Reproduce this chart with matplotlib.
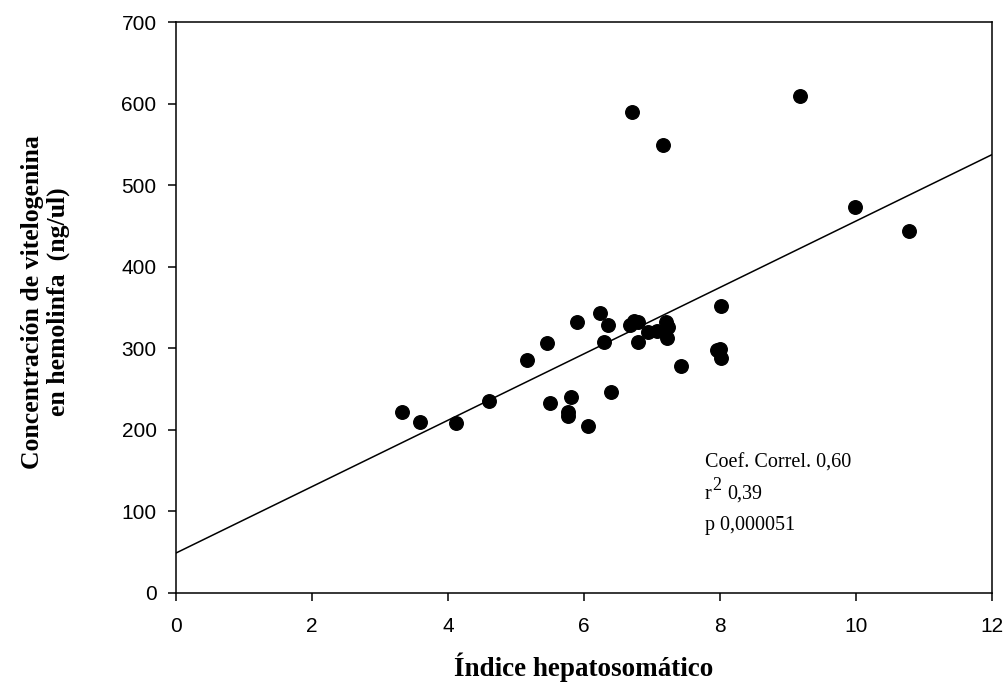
import numpy as np
import matplotlib
matplotlib.use("Agg")
import matplotlib.pyplot as plt

# indice hepatosomatico vs vitelogenina (ng/ul)
ihs = [3.32, 3.59, 4.12, 4.60, 5.16, 5.46, 5.50, 5.76, 5.77, 5.81, 5.90, 6.06,
       6.24, 6.29, 6.35, 6.40, 6.68, 6.74, 6.79, 6.79, 6.71, 6.94, 7.07, 7.16,
       7.21, 7.24, 7.22, 7.43, 7.96, 8.00, 8.01, 8.01, 9.18, 9.99, 10.78]
vtg = [222, 210, 208, 235, 286, 306, 233, 222, 217, 240, 332, 205,
       343, 308, 329, 246, 328, 333, 332, 308, 590, 320, 321, 549,
       332, 326, 313, 278, 298, 299, 288, 352, 609, 473, 444]

# recta de regresion
intercept = 49.0
slope = 40.7
x_fit = [0, 12]

fig = plt.figure(figsize=(10.08, 6.9), dpi=100)
ax = fig.add_axes([0.1746, 0.1406, 0.8095, 0.8275])

ax.scatter(ihs, vtg, s=95, color='black', zorder=3)
ax.plot(x_fit, [intercept + slope * v for v in x_fit], color='black', lw=1.1)

ax.set_xlim(0, 12)
ax.set_ylim(0, 700)
ax.set_xticks(range(0, 13, 2))
ax.set_yticks(range(0, 701, 100))
ax.tick_params(direction='out', length=6, width=1.1, top=False, right=False,
               labelsize=15)
ax.tick_params(axis='x', pad=11)
ax.tick_params(axis='y', pad=8)
for lab in ax.get_xticklabels() + ax.get_yticklabels():
    lab.set_fontfamily('Liberation Sans')
for sp in ax.spines.values():
    sp.set_linewidth(1.1)

ax.set_xlabel('Índice hepatosomático', fontfamily='Liberation Serif',
              fontweight='bold', fontsize=19.5, labelpad=12)
ax.set_ylabel('Concentración de vitelogenina\nen hemolinfa  (ng/ul)',
              fontfamily='Liberation Serif', fontweight='bold', fontsize=18.5,
              labelpad=37, linespacing=1.15)
ax.yaxis.label.set_y(0.51)

tx = 7.78
tkw = dict(fontfamily='Liberation Serif', fontsize=14.5, va='center', ha='left')
ax.text(tx, 159, 'Coef. Correl. 0,60', **tkw)
ax.text(tx, 121, 'r', **tkw)
ax.annotate('2', (tx, 121), xytext=(5.5, 6), textcoords='offset points',
            fontfamily='Liberation Serif', fontsize=13, va='center', ha='left')
ax.annotate('0,39', (tx, 121), xytext=(16, 0), textcoords='offset points', **tkw)
ax.text(tx, 83, 'p 0,000051', **tkw)

fig.savefig('out.png', dpi=100)
